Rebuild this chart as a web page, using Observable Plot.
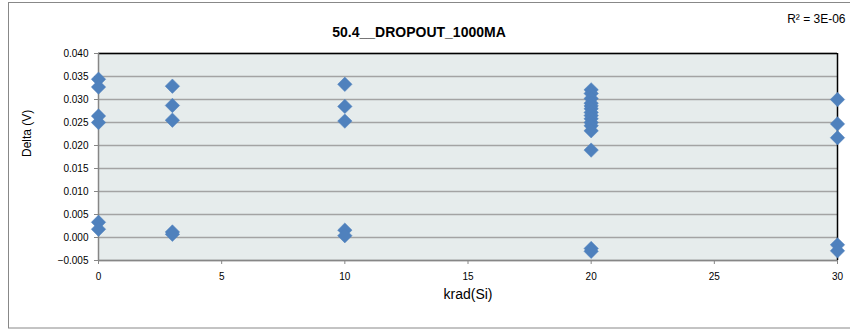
<!DOCTYPE html>
<html>
<head>
<meta charset="utf-8">
<script src="https://cdn.jsdelivr.net/npm/d3@7"></script>
<script src="https://cdn.jsdelivr.net/npm/@observablehq/plot@0.6"></script>
<style>
  html, body { margin: 0; padding: 0; background: #fff; }
  svg { display: block; }
</style>
</head>
<body>
<div id="chart"></div>
<script>
const title = "50.4__DROPOUT_1000MA";
const rSquared = "R² = 3E-06";
const xLabel = "krad(Si)";
const yLabel = "Delta (V)";

const dose = [
  0, 0, 0, 0, 0, 0,
  3, 3, 3, 3, 3,
  10, 10, 10, 10, 10,
  20, 20, 20, 20, 20, 20, 20, 20, 20, 20, 20, 20, 20, 20, 20,
  30, 30, 30, 30, 30
];
const delta = [
  0.0344, 0.0327, 0.0264, 0.0250, 0.0033, 0.0018,
  0.0329, 0.0287, 0.0255, 0.0012, 0.0007,
  0.0333, 0.0285, 0.0253, 0.0016, 0.0004,
  0.0321, 0.0313, 0.0302, 0.0292, 0.0286, 0.0280, 0.0272, 0.0265, 0.0258, 0.0250, 0.0243, 0.0232, 0.0190, -0.0024, -0.0030,
  0.0300, 0.0247, 0.0217, -0.0016, -0.0029
];
const xTicks = [0, 5, 10, 15, 20, 25, 30];
const yTicks = [-0.005, 0, 0.005, 0.010, 0.015, 0.020, 0.025, 0.030, 0.035, 0.040];

const data = dose.map((d, i) => ({dose: d, delta: delta[i]}));
const font = "Liberation Sans, Arial, sans-serif";

const chart = Plot.plot({
  width: 850,
  height: 333,
  marginLeft: 98,
  marginRight: 13,
  marginTop: 53,
  marginBottom: 73,
  style: {fontFamily: font, fontSize: "10px", color: "#000", background: "#fff", overflow: "visible"},
  x: {domain: [0, 30]},
  y: {domain: [-0.005, 0.040]},
  marks: [
    Plot.frame({fill: "#E6ECEC", stroke: null}),
    Plot.gridY(yTicks, {stroke: "#A3A3A3", strokeOpacity: 1, strokeWidth: 1.5}),
    Plot.ruleY([0.040], {stroke: "#000", strokeWidth: 1.5}),
    Plot.ruleX([30], {stroke: "#000", strokeWidth: 1.5}),
    Plot.ruleX([0], {stroke: "#868686", strokeWidth: 1.5}),
    Plot.ruleY([-0.005], {stroke: "#868686", strokeWidth: 1.5}),
    Plot.axisX({ticks: xTicks, tickSize: 4, tickPadding: 8, label: null, stroke: "#868686", tickFormat: d3.format("d"), fontSize: 10}),
    Plot.axisY({ticks: yTicks, tickSize: 4, tickPadding: 6, label: null, stroke: "#868686", tickFormat: d3.format(".3f"), fontSize: 10}),
    Plot.dot(data, {x: "dose", y: "delta", symbol: "diamond2", r: 6.5, fill: "#4F81BD", stroke: "#4F81BD", strokeWidth: 0.5}),
    Plot.text([xLabel], {frameAnchor: "bottom", dy: 38, fontSize: 14, fill: "#000"}),
    Plot.text([yLabel], {frameAnchor: "left", dx: -71, rotate: -90, fontSize: 12, fill: "#000"}),
    Plot.text([title], {frameAnchor: "top", dx: -49, dy: -26, fontSize: 14, fontWeight: "bold", fill: "#000"}),
    Plot.text([rSquared], {frameAnchor: "top-right", dx: 8, dy: -39, textAnchor: "end", fontSize: 12, fill: "#000"})
  ]
});

// outer chart-area border (Excel style)
d3.select(chart).insert("rect", ":first-child")
  .attr("x", 8.5).attr("y", 2.5).attr("width", 850).attr("height", 325.5)
  .attr("fill", "none").attr("stroke", "#888").attr("stroke-width", 1);

document.getElementById("chart").append(chart);
</script>
</body>
</html>
